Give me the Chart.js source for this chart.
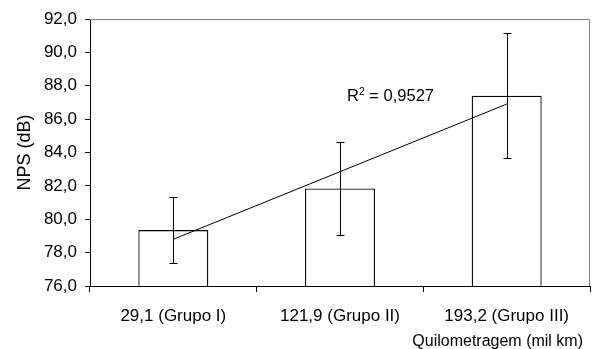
<!DOCTYPE html>
<html><head><meta charset="utf-8">
<script src="https://cdn.jsdelivr.net/npm/chart.js@4/dist/chart.umd.min.js"></script>
<style>html,body{margin:0;padding:0;background:#fff;}</style>
</head><body>
<canvas id="c" width="610" height="349" style="width:610px;height:349px;display:block"></canvas>
<script>
const categories = ['29,1 (Grupo I)', '121,9 (Grupo II)', '193,2 (Grupo III)'];
const npsMean = [79.35, 81.85, 87.4];
const npsErr = [2.0, 2.8, 3.75];
const trendValues = [78.8, 82.85, 86.9];
const rSquaredText = ['R', '2', ' = 0,9527'];
const yTitle = 'NPS (dB)';
const xTitle = 'Quilometragem (mil km)';

const FONT = "'Liberation Sans', Arial, sans-serif";

const plotFrame = {
  id: 'plotFrame',
  beforeDatasetsDraw(chart) {
    const {ctx, chartArea: a} = chart;
    ctx.save();
    ctx.strokeStyle = '#808080';
    ctx.lineWidth = 1;
    ctx.beginPath();
    ctx.moveTo(a.left, a.top + 0.5);
    ctx.lineTo(a.right - 0.5, a.top + 0.5);
    ctx.lineTo(a.right - 0.5, a.bottom);
    ctx.stroke();
    ctx.restore();
  }
};

const errorBars = {
  id: 'errorBars',
  afterDatasetsDraw(chart) {
    const {ctx} = chart;
    const y = chart.scales.y;
    const meta = chart.getDatasetMeta(1);
    ctx.save();
    ctx.strokeStyle = '#000';
    ctx.lineWidth = 1;
    meta.data.forEach((bar, i) => {
      const x = Math.round(bar.x) + 0.5;
      const yt = Math.round(y.getPixelForValue(npsMean[i] + npsErr[i])) + 0.5;
      const yb = Math.round(y.getPixelForValue(npsMean[i] - npsErr[i])) + 0.5;
      ctx.beginPath();
      ctx.moveTo(x, yt); ctx.lineTo(x, yb);
      ctx.moveTo(x - 4, yt); ctx.lineTo(x + 4, yt);
      ctx.moveTo(x - 4, yb); ctx.lineTo(x + 4, yb);
      ctx.stroke();
    });
    ctx.restore();
  }
};

const labels = {
  id: 'labels',
  afterDraw(chart) {
    const {ctx, chartArea: a} = chart;
    const xs = chart.scales.x, ys = chart.scales.y;
    ctx.save();
    ctx.fillStyle = '#000';
    let x = xs.getPixelForValue(1) + 7;
    const base = ys.getPixelForValue(87.1);
    ctx.textBaseline = 'alphabetic';
    ctx.textAlign = 'left';
    ctx.font = '16.5px ' + FONT;
    ctx.fillText(rSquaredText[0], x, base);
    x += ctx.measureText(rSquaredText[0]).width;
    ctx.font = '10.5px ' + FONT;
    ctx.fillText(rSquaredText[1], x, base - 6);
    x += ctx.measureText(rSquaredText[1]).width;
    ctx.font = '16.5px ' + FONT;
    ctx.fillText(rSquaredText[2], x, base);
    ctx.textAlign = 'right';
    ctx.font = '16px ' + FONT;
    ctx.fillText(xTitle, a.right - 7, 346);
    ctx.restore();
  }
};

new Chart(document.getElementById('c'), {
  type: 'bar',
  data: {
    labels: categories,
    datasets: [
      {
        type: 'line',
        data: trendValues,
        borderColor: '#000',
        borderWidth: 1,
        pointRadius: 0,
        fill: false,
        tension: 0,
        order: 0
      },
      {
        type: 'bar',
        data: npsMean,
        backgroundColor: '#fff',
        borderColor: '#000',
        borderWidth: 1.3,
        barPercentage: 0.42,
        categoryPercentage: 1.0,
        order: 1
      }
    ]
  },
  options: {
    responsive: false,
    animation: false,
    devicePixelRatio: 1,
    layout: {padding: {top: 19, right: 20, left: 0, bottom: 0}},
    plugins: {legend: {display: false}, tooltip: {enabled: false}},
    scales: {
      x: {
        type: 'category',
        offset: true,
        grid: {offset: true, drawOnChartArea: false, drawTicks: true, tickLength: 6, color: '#000', lineWidth: 1},
        border: {display: true, color: '#000', width: 1},
        ticks: {color: '#000', font: {family: FONT, size: 17}, padding: 14, maxRotation: 0, autoSkip: false},
        afterFit(s) { s.height = 63; }
      },
      y: {
        min: 76, max: 92,
        grid: {drawOnChartArea: false, drawTicks: true, tickLength: 5, color: '#000', lineWidth: 1},
        border: {display: true, color: '#000', width: 1},
        ticks: {
          stepSize: 2, color: '#000', font: {family: FONT, size: 17}, padding: 8,
          callback: v => v.toFixed(1).replace('.', ',')
        },
        title: {display: true, text: yTitle, color: '#000', font: {family: FONT, size: 18}, padding: {top: 14, bottom: 0}},
        afterFit(s) { s.width = 90; }
      }
    }
  },
  plugins: [plotFrame, errorBars, labels]
});
</script>
</body></html>
